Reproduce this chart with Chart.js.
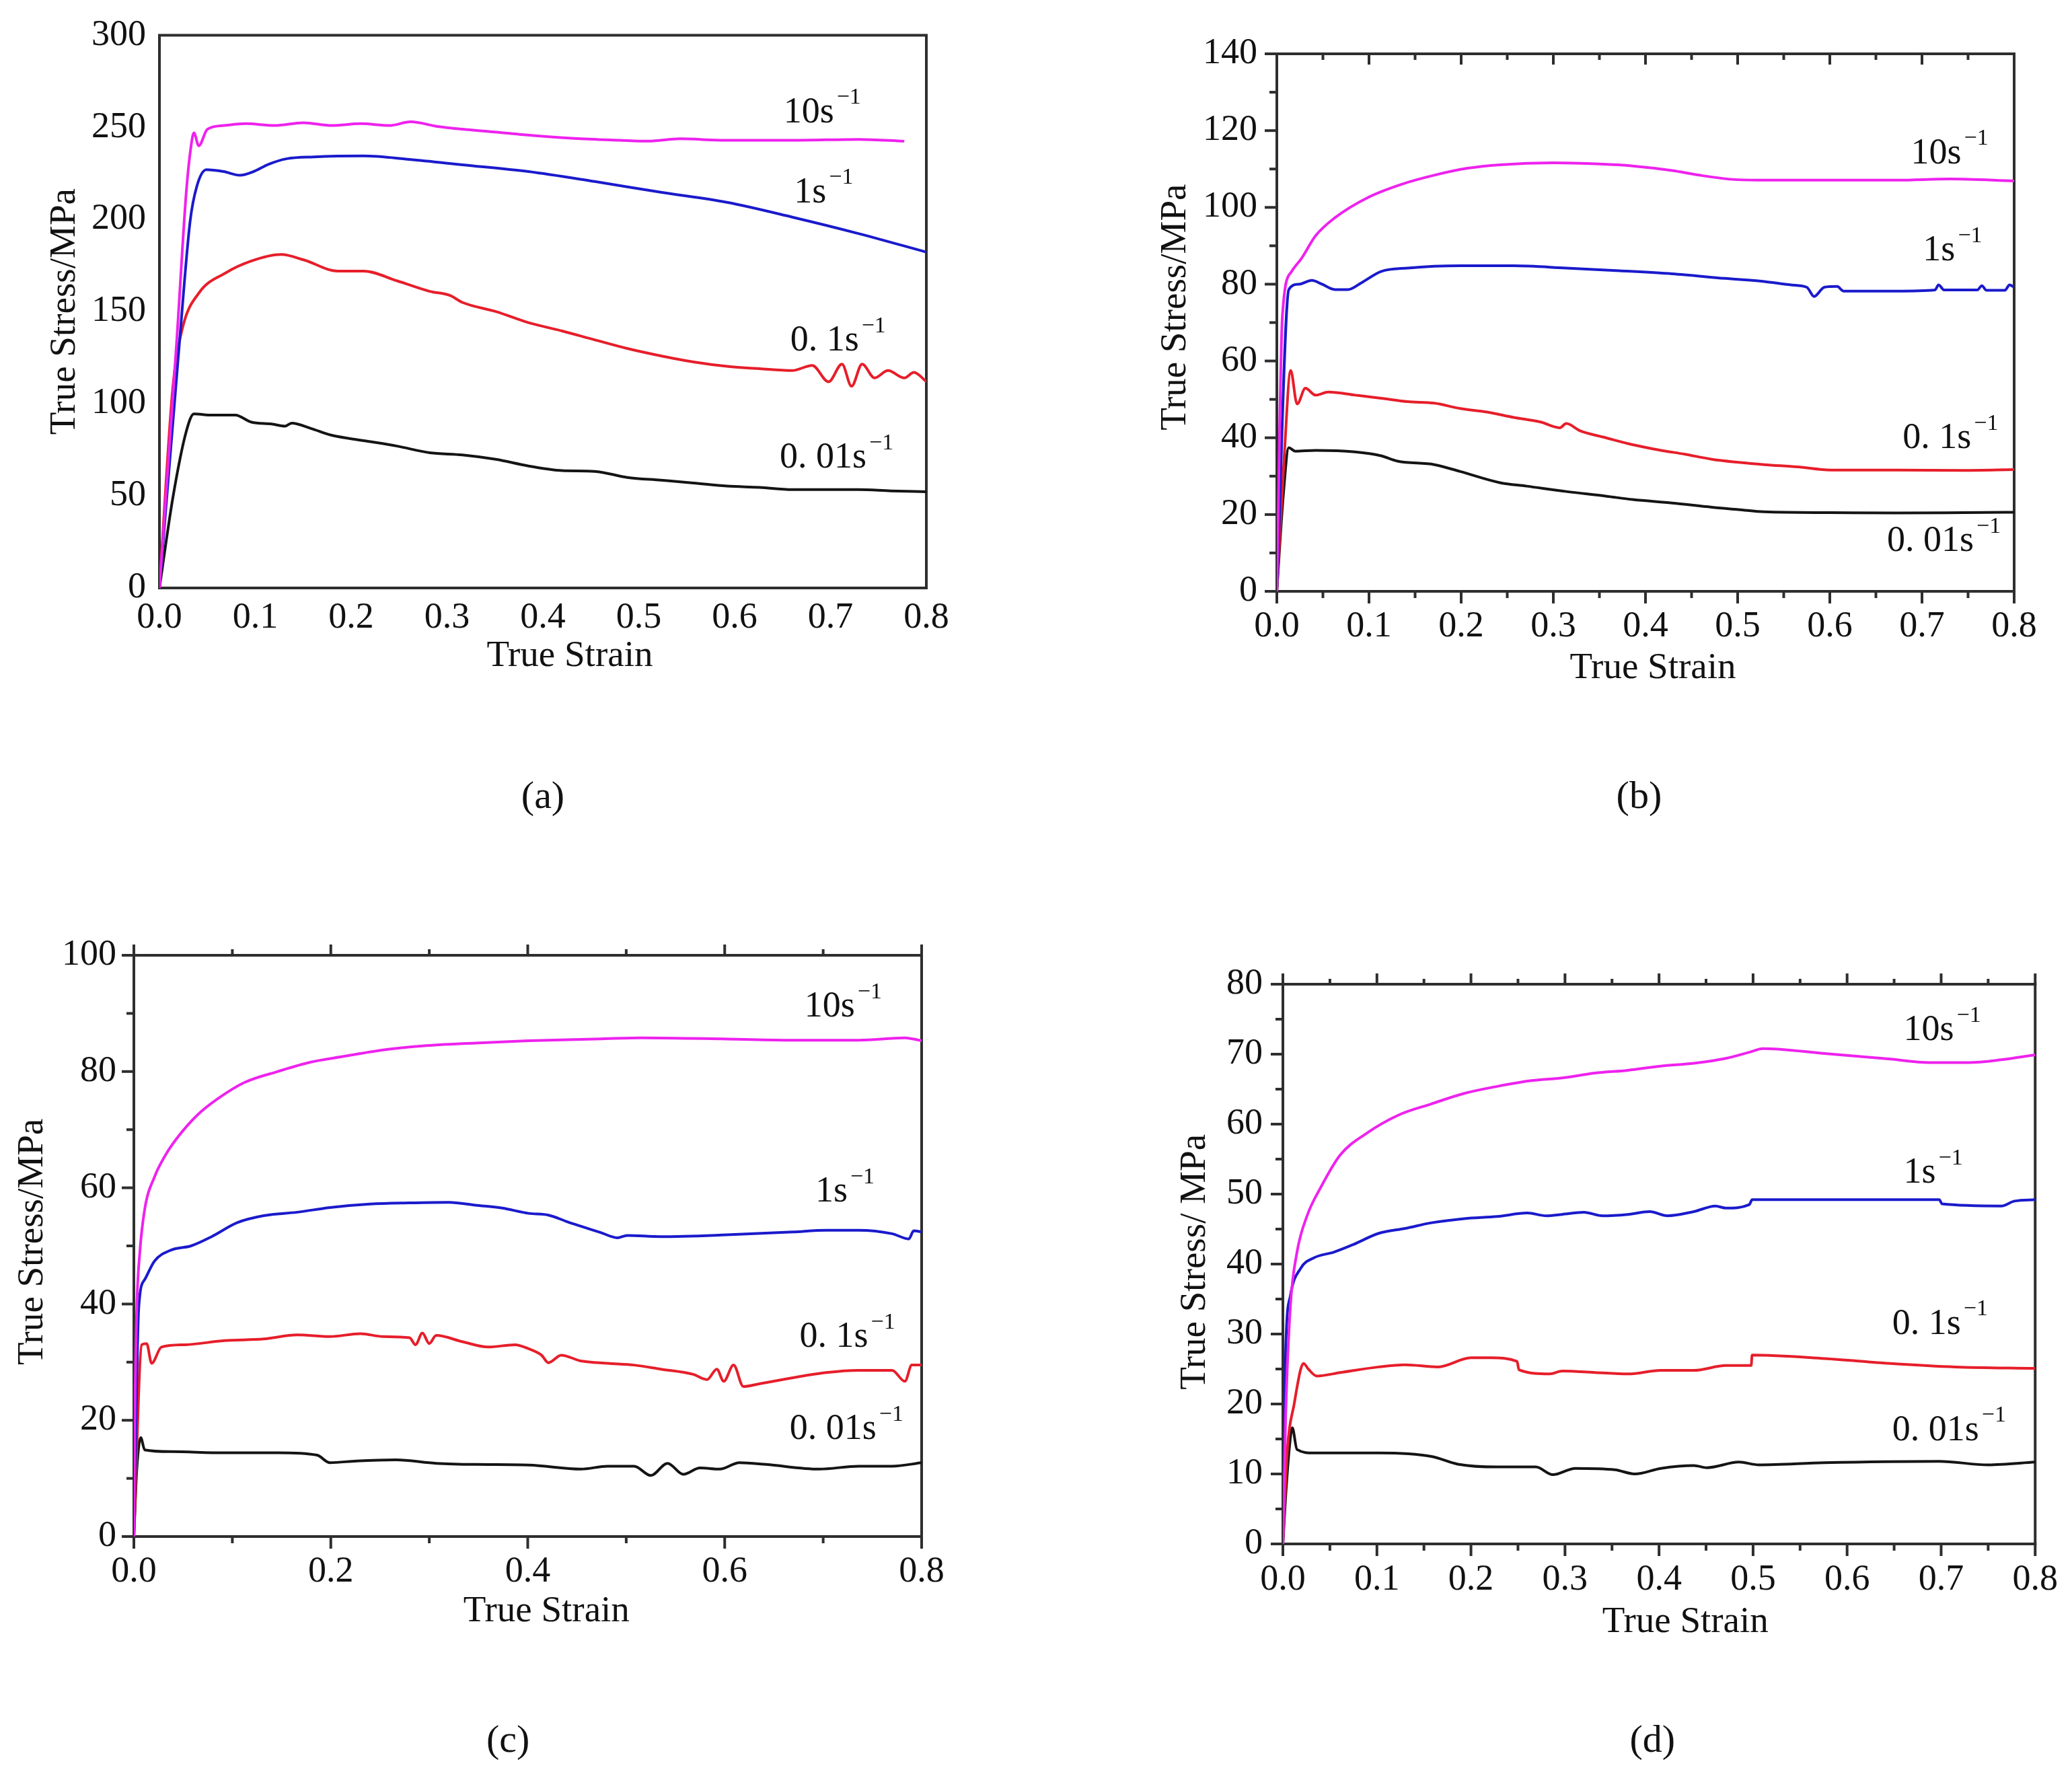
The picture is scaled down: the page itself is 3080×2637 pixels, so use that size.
<!DOCTYPE html>
<html>
<head>
<meta charset="utf-8">
<script src="https://cdn.jsdelivr.net/npm/chart.js@4.4.1/dist/chart.umd.min.js"></script>
<style>
  html, body { margin: 0; padding: 0; background: #fff; }
  #page { position: relative; width: 3080px; height: 2637px; overflow: hidden; background: #fff; }
  #page canvas { position: absolute; }
</style>
</head>
<body>
<div id="page">
  <canvas id="ca" width="1540" height="1318" style="left:0;top:0"></canvas>
  <canvas id="cb" width="1540" height="1318" style="left:1540px;top:0"></canvas>
  <canvas id="cc" width="1540" height="1319" style="left:0;top:1318px"></canvas>
  <canvas id="cd" width="1540" height="1319" style="left:1540px;top:1318px"></canvas>
</div>
<script>
// ── DATA ──
const rates = ['10s', '1s', '0. 1s', '0. 01s'];
const rateColors = ['#ee22ee', '#1a1acc', '#e61e2a', '#141414'];

// tick values
const strainTicks01 = [0, 0.1, 0.2, 0.3, 0.4, 0.5, 0.6, 0.7, 0.8];
const strainTicks02 = [0, 0.2, 0.4, 0.6, 0.8];
const stressTicksA = [0, 50, 100, 150, 200, 250, 300];
const stressTicksB = [0, 20, 40, 60, 80, 100, 120, 140];
const stressTicksC = [0, 20, 40, 60, 80, 100];
const stressTicksD = [0, 10, 20, 30, 40, 50, 60, 70, 80];

// (a)
const aStrain10 = [0, 0.018, 0.028, 0.033, 0.036, 0.041, 0.05, 0.067, 0.09, 0.12, 0.15, 0.18, 0.21, 0.24, 0.262, 0.29, 0.316, 0.35, 0.38, 0.433, 0.48, 0.51, 0.543, 0.59, 0.66, 0.73, 0.777];
const aStress10 = [0, 134, 215, 240, 247, 240, 249, 251, 252, 251, 252.5, 251, 252, 251, 253, 250.5, 249, 247.5, 246, 244, 243, 242.5, 243.8, 243, 243, 243.5, 242.5];
const aStrain1 = [0, 0.021, 0.032, 0.039, 0.049, 0.067, 0.084, 0.098, 0.114, 0.133, 0.161, 0.213, 0.261, 0.316, 0.385, 0.454, 0.523, 0.592, 0.66, 0.729, 0.8];
const aStress1 = [0, 134, 199, 218, 227, 226, 224, 226, 230, 233, 234, 234.5, 232.6, 229.7, 226, 220.6, 214.8, 209.3, 201.3, 192.4, 182.3];
const aStrain01 = [0, 0.014, 0.024, 0.041, 0.069, 0.096, 0.127, 0.151, 0.186, 0.213, 0.248, 0.282, 0.303, 0.316, 0.351, 0.385, 0.42, 0.454, 0.488, 0.523, 0.557, 0.592, 0.626, 0.66, 0.681, 0.698, 0.712, 0.722, 0.733, 0.746, 0.76, 0.777, 0.787, 0.8];
const aStress01 = [0, 109, 141, 160, 171, 177.5, 181, 178, 172, 172, 166.7, 161, 158.8, 155, 150, 144, 139.5, 134.7, 130, 126, 122.7, 120.3, 119, 118, 120.8, 111.9, 121.5, 109.5, 121.5, 114, 118, 114, 117, 112];
const aStrain001 = [0, 0.014, 0.028, 0.036, 0.055, 0.079, 0.096, 0.117, 0.131, 0.138, 0.158, 0.179, 0.2, 0.22, 0.248, 0.282, 0.316, 0.351, 0.385, 0.42, 0.454, 0.488, 0.523, 0.557, 0.592, 0.626, 0.66, 0.695, 0.729, 0.763, 0.8];
const aStress001 = [0, 49, 85, 94.5, 93.8, 93.8, 90, 89, 87.8, 89.5, 86.6, 83, 81, 79.4, 77, 73.4, 72.2, 69.8, 66.2, 63.7, 63.3, 60, 58.5, 57, 55.3, 54.6, 53.4, 53.4, 53.4, 52.7, 52.2];

// (b)
const bStrain10 = [0, 0.006, 0.016, 0.027, 0.042, 0.063, 0.099, 0.135, 0.171, 0.207, 0.242, 0.3, 0.35, 0.386, 0.429, 0.458, 0.494, 0.529, 0.601, 0.673, 0.73, 0.8];
const bStress10 = [0, 71.6, 83.3, 86.8, 92.6, 97.3, 102.6, 106, 108.4, 110.2, 111.1, 111.6, 111.3, 110.8, 109.6, 108.4, 107.3, 107.1, 107.1, 107.1, 107.4, 106.9];
const bStrain1 = [0, 0.013, 0.024, 0.038, 0.049, 0.063, 0.077, 0.092, 0.113, 0.142, 0.199, 0.257, 0.314, 0.372, 0.429, 0.486, 0.529, 0.558, 0.575, 0.583, 0.594, 0.608, 0.615, 0.673, 0.714, 0.718, 0.724, 0.76, 0.765, 0.77, 0.79, 0.795, 0.8];
const bStress1 = [0, 78.6, 80, 81, 80, 78.6, 78.6, 80.4, 83.3, 84.2, 84.8, 84.8, 84.2, 83.5, 82.7, 81.5, 80.7, 79.8, 79.2, 76.8, 79.2, 79.4, 78.2, 78.2, 78.5, 79.8, 78.5, 78.5, 79.6, 78.4, 78.4, 79.8, 79.2];
const bStrain01 = [0, 0.008, 0.015, 0.022, 0.031, 0.042, 0.056, 0.085, 0.113, 0.142, 0.171, 0.199, 0.228, 0.257, 0.286, 0.307, 0.314, 0.329, 0.357, 0.386, 0.415, 0.443, 0.472, 0.501, 0.529, 0.565, 0.601, 0.673, 0.745, 0.8];
const bStress01 = [0, 35, 57.5, 48.8, 52.9, 51.1, 51.9, 51.1, 50.3, 49.4, 49, 47.6, 46.7, 45.3, 44.1, 42.6, 43.7, 41.8, 40, 38.2, 36.8, 35.7, 34.4, 33.6, 33, 32.4, 31.6, 31.6, 31.5, 31.7];
const bStrain001 = [0, 0.007, 0.013, 0.02, 0.042, 0.085, 0.113, 0.131, 0.171, 0.199, 0.242, 0.271, 0.314, 0.357, 0.386, 0.429, 0.472, 0.501, 0.529, 0.601, 0.673, 0.745, 0.8];
const bStress001 = [0, 25, 37.4, 36.5, 36.7, 36.3, 35.3, 33.9, 33, 31.2, 28.3, 27.4, 26, 24.8, 23.9, 23, 21.9, 21.3, 20.7, 20.5, 20.4, 20.5, 20.6];

// (c)
const cStrain10 = [0, 0.001, 0.003, 0.006, 0.011, 0.021, 0.032, 0.045, 0.065, 0.085, 0.112, 0.146, 0.179, 0.213, 0.253, 0.293, 0.347, 0.401, 0.468, 0.515, 0.602, 0.669, 0.736, 0.783, 0.8];
const cStress10 = [0, 20.9, 39.5, 48.8, 56.3, 61.9, 65.6, 68.8, 72.6, 75.3, 78.1, 80, 81.6, 82.6, 83.7, 84.4, 84.9, 85.3, 85.6, 85.8, 85.6, 85.4, 85.4, 85.8, 85.3];
const cStrain1 = [0, 0.005, 0.011, 0.021, 0.038, 0.058, 0.079, 0.105, 0.132, 0.166, 0.199, 0.24, 0.28, 0.32, 0.347, 0.374, 0.401, 0.421, 0.441, 0.461, 0.474, 0.491, 0.501, 0.535, 0.602, 0.669, 0.703, 0.736, 0.77, 0.787, 0.792, 0.8];
const cStress1 = [0, 39.5, 44.2, 47.4, 49.3, 50, 51.6, 54, 55.2, 55.8, 56.6, 57.2, 57.4, 57.5, 57, 56.5, 55.6, 55.3, 54.1, 53, 52.3, 51.4, 51.8, 51.6, 51.9, 52.4, 52.7, 52.7, 52.1, 51.2, 52.6, 52.4];
const cStrain01 = [0, 0.008, 0.013, 0.018, 0.028, 0.052, 0.092, 0.132, 0.166, 0.199, 0.23, 0.253, 0.28, 0.286, 0.293, 0.3, 0.307, 0.334, 0.36, 0.387, 0.401, 0.414, 0.421, 0.434, 0.454, 0.481, 0.508, 0.535, 0.568, 0.582, 0.592, 0.599, 0.609, 0.619, 0.636, 0.703, 0.736, 0.77, 0.783, 0.79, 0.8];
const cStress01 = [0, 33, 33.2, 29.8, 32.6, 33, 33.7, 34, 34.7, 34.4, 34.9, 34.4, 34.2, 33, 35, 33.2, 34.6, 33.5, 32.6, 33, 32.3, 31.2, 29.9, 31.2, 30.2, 29.8, 29.5, 28.8, 27.9, 27, 28.8, 26.7, 29.5, 25.8, 26.3, 28.2, 28.6, 28.6, 26.7, 29.5, 29.5];
const cStrain001 = [0, 0.003, 0.007, 0.011, 0.038, 0.092, 0.146, 0.186, 0.199, 0.226, 0.266, 0.307, 0.347, 0.401, 0.454, 0.481, 0.508, 0.525, 0.542, 0.558, 0.575, 0.595, 0.615, 0.642, 0.696, 0.736, 0.77, 0.8];
const cStress001 = [0, 11.6, 17, 14.9, 14.6, 14.4, 14.4, 14, 12.7, 13, 13.2, 12.6, 12.4, 12.3, 11.6, 12.1, 12.1, 10.5, 12.6, 10.7, 11.8, 11.6, 12.7, 12.4, 11.6, 12.1, 12.1, 12.7];

// (d)
const dStrain10 = [0, 0.003, 0.008, 0.015, 0.026, 0.04, 0.061, 0.088, 0.123, 0.158, 0.193, 0.228, 0.263, 0.297, 0.332, 0.367, 0.402, 0.437, 0.471, 0.499, 0.51, 0.576, 0.646, 0.687, 0.729, 0.764, 0.8];
const dStress10 = [0, 18.5, 34, 41.7, 47, 50.9, 55.6, 58.6, 61.3, 62.9, 64.4, 65.4, 66.2, 66.6, 67.3, 67.7, 68.3, 68.7, 69.4, 70.4, 70.8, 70.1, 69.3, 68.8, 68.8, 69.2, 69.9];
const dStrain1 = [0, 0.003, 0.008, 0.019, 0.033, 0.054, 0.075, 0.102, 0.13, 0.158, 0.193, 0.228, 0.26, 0.28, 0.297, 0.32, 0.34, 0.367, 0.39, 0.409, 0.437, 0.46, 0.471, 0.496, 0.499, 0.576, 0.698, 0.701, 0.764, 0.778, 0.8];
const dStress1 = [0, 27.8, 35.5, 39.4, 40.9, 41.7, 42.8, 44.4, 45.1, 45.9, 46.5, 46.8, 47.3, 46.9, 47.1, 47.4, 46.9, 47.1, 47.5, 46.9, 47.5, 48.3, 48, 48.5, 49.2, 49.2, 49.2, 48.6, 48.3, 49, 49.2];
const dStrain01 = [0, 0.005, 0.012, 0.019, 0.022, 0.027, 0.036, 0.061, 0.102, 0.13, 0.165, 0.2, 0.221, 0.249, 0.251, 0.284, 0.297, 0.332, 0.367, 0.402, 0.437, 0.471, 0.498, 0.499, 0.576, 0.646, 0.715, 0.8];
const dStress01 = [0, 13.9, 20, 25, 25.8, 25, 24, 24.5, 25.3, 25.6, 25.3, 26.6, 26.6, 26.1, 24.9, 24.3, 24.7, 24.5, 24.3, 24.8, 24.8, 25.5, 25.5, 27, 26.5, 25.8, 25.3, 25.1];
const dStrain001 = [0, 0.003, 0.007, 0.01, 0.015, 0.033, 0.102, 0.158, 0.186, 0.228, 0.269, 0.287, 0.311, 0.353, 0.374, 0.402, 0.437, 0.451, 0.485, 0.506, 0.576, 0.698, 0.75, 0.8];
const dStress001 = [0, 6.9, 13.9, 16.6, 13.5, 13, 13, 12.5, 11.4, 11, 11, 9.9, 10.8, 10.6, 10, 10.8, 11.2, 10.9, 11.7, 11.3, 11.6, 11.8, 11.3, 11.7];

// ── PANEL LAYOUT ──
// rect = plot area in page pixels [left, top, right, bottom]
const FONT = '"Liberation Serif", "Times New Roman", serif';
const Y_AXIS_W = 150, X_AXIS_H = 150;
const tickOut = { left: [16, 9], bottom: [16, 8] };

const panels = [
  { id: 'ca', ox: 0, oy: 0, h: 1318, rect: [237, 39, 1377, 874],
    xTicks: strainTicks01, yTicks: stressTicksA, xPad: 12, yPad: 20, marks: null,
    series: [[aStrain10, aStress10], [aStrain1, aStress1], [aStrain01, aStress01], [aStrain001, aStress001]],
    yTitle: ['True Stress/MPa', 140, 150], xTitle: [0.428, 102], letter: ['(a)', 0.40, 312],
    labels: [[0.651, 258], [0.662, 214.5], [0.658, 134], [0.647, 70.4]] },
  { id: 'cb', ox: 1540, oy: 0, h: 1318, rect: [1898, 80, 2994, 879],
    xTicks: strainTicks01, yTicks: stressTicksB, xPad: 20, yPad: 29, marks: { top: [14, 7, 1] },
    series: [[bStrain10, bStress10], [bStrain1, bStress1], [bStrain01, bStress01], [bStrain001, bStress001]],
    yTitle: ['True Stress/MPa', 150, 74], xTitle: [0.408, 115], letter: ['(b)', 0.393, 307],
    labels: [[0.688, 114], [0.701, 88.7], [0.679, 39.8], [0.662, 13]] },
  { id: 'cc', ox: 0, oy: 1318, h: 1319, rect: [199, 1420, 1370, 2284],
    xTicks: strainTicks02, yTicks: stressTicksC, xPad: 20, yPad: 26, marks: { top: [14, 7, -1] },
    series: [[cStrain10, cStress10], [cStrain1, cStress1], [cStrain01, cStress01], [cStrain001, cStress001]],
    yTitle: ['True Stress/MPa', 150, 50.7], xTitle: [0.419, 112], letter: ['(c)', 0.380, 305],
    labels: [[0.681, 91.1], [0.692, 59.3], [0.676, 34.3], [0.666, 18.4]] },
  { id: 'cd', ox: 1540, oy: 1318, h: 1319, rect: [1907, 1463, 3035, 2295],
    xTicks: strainTicks01, yTicks: stressTicksD, xPad: 21, yPad: 30, marks: { top: [14, 6, -1] },
    series: [[dStrain10, dStress10], [dStrain1, dStress1], [dStrain01, dStress01], [dStrain001, dStress001]],
    yTitle: ['True Stress/ MPa', 130, 40.3], xTitle: [0.428, 117], letter: ['(d)', 0.393, 294],
    labels: [[0.660, 73.4], [0.660, 53], [0.648, 31.4], [0.648, 16.2]] }
];

// ── PLUGINS ──
const mids = vals => vals.slice(1).map((v, i) => (v + vals[i]) / 2);

const frameTicks = {
  id: 'frameTicks',
  beforeDatasetsDraw(chart, args, o) {
    const { ctx, chartArea: a, scales: { x, y } } = chart;
    ctx.save();
    ctx.strokeStyle = '#2e2e2e';
    ctx.lineWidth = 4;
    ctx.lineCap = 'square';
    ctx.strokeRect(a.left, a.top, a.right - a.left, a.bottom - a.top);
    if (o.marks) {
      const line = (x1, y1, x2, y2) => { ctx.beginPath(); ctx.moveTo(x1, y1); ctx.lineTo(x2, y2); ctx.stroke(); };
      const xs = o.xTicks, ys = o.yTicks;
      ys.forEach(v => { const p = y.getPixelForValue(v); line(a.left, p, a.left - tickOut.left[0], p); });
      mids(ys).forEach(v => { const p = y.getPixelForValue(v); line(a.left, p, a.left - tickOut.left[1], p); });
      xs.forEach(v => { const p = x.getPixelForValue(v); line(p, a.bottom, p, a.bottom + tickOut.bottom[0]); });
      mids(xs).forEach(v => { const p = x.getPixelForValue(v); line(p, a.bottom, p, a.bottom + tickOut.bottom[1]); });
      const [tMaj, tMin, dir] = o.marks.top;
      xs.forEach(v => { const p = x.getPixelForValue(v); line(p, a.top, p, a.top + dir * tMaj); });
      mids(xs).forEach(v => { const p = x.getPixelForValue(v); line(p, a.top, p, a.top + dir * tMin); });
    }
    ctx.restore();
  }
};

const panelText = {
  id: 'panelText',
  afterDraw(chart, args, o) {
    const { ctx, chartArea: a, scales: { x, y } } = chart;
    ctx.save();
    ctx.fillStyle = '#111';
    ctx.textBaseline = 'middle';

    // axis titles
    ctx.font = '55px ' + FONT;
    ctx.textAlign = 'center';
    ctx.save();
    ctx.translate(a.left - o.yTitle[1], y.getPixelForValue(o.yTitle[2]));
    ctx.rotate(-Math.PI / 2);
    ctx.fillText(o.yTitle[0], 0, 0);
    ctx.restore();
    ctx.fillText('True Strain', x.getPixelForValue(o.xTitle[0]), a.bottom + o.xTitle[1]);

    // panel letter
    ctx.font = '58px ' + FONT;
    ctx.fillText(o.letter[0], x.getPixelForValue(o.letter[1]), a.bottom + o.letter[2]);

    // strain-rate labels with superscript
    ctx.textAlign = 'left';
    o.labels.forEach(([xv, yv], i) => {
      const px = x.getPixelForValue(xv), py = y.getPixelForValue(yv);
      ctx.font = '54px ' + FONT;
      ctx.fillText(rates[i], px, py);
      const w = ctx.measureText(rates[i]).width;
      ctx.font = '34px ' + FONT;
      ctx.fillText('\u22121', px + w + 4, py - 22);
    });
    ctx.restore();
  }
};

// ── CHARTS ──
const tickFont = { family: FONT, size: 54 };

panels.forEach(p => {
  const [L, T, R, B] = p.rect;
  const lx = L - p.ox, ty = T - p.oy, rx = R - p.ox, by = B - p.oy;
  new Chart(document.getElementById(p.id), {
    type: 'line',
    data: {
      datasets: p.series.map(([sx, sy], i) => ({
        label: rates[i],
        data: sx.map((v, k) => ({ x: v, y: sy[k] })),
        borderColor: rateColors[i],
        borderWidth: 4,
        pointRadius: 0,
        fill: false,
        cubicInterpolationMode: 'monotone',
        tension: 0.2
      }))
    },
    options: {
      responsive: false,
      devicePixelRatio: 1,
      animation: false,
      events: [],
      layout: { padding: { left: lx - Y_AXIS_W, top: ty, right: 1540 - rx, bottom: p.h - by - X_AXIS_H } },
      plugins: {
        legend: { display: false },
        tooltip: { enabled: false },
        frameTicks: { marks: p.marks, xTicks: p.xTicks, yTicks: p.yTicks },
        panelText: { yTitle: p.yTitle, xTitle: p.xTitle, letter: p.letter, labels: p.labels }
      },
      scales: {
        x: {
          type: 'linear',
          min: 0, max: 0.8,
          afterBuildTicks: s => { s.ticks = p.xTicks.map(v => ({ value: v })); },
          afterFit: s => { s.height = X_AXIS_H; },
          grid: { display: false, drawTicks: false },
          border: { display: false },
          ticks: { font: tickFont, color: '#111', padding: p.xPad, maxRotation: 0, autoSkip: false, callback: v => v.toFixed(1) }
        },
        y: {
          min: p.yTicks[0], max: p.yTicks[p.yTicks.length - 1],
          afterBuildTicks: s => { s.ticks = p.yTicks.map(v => ({ value: v })); },
          afterFit: s => { s.width = Y_AXIS_W; },
          grid: { display: false, drawTicks: false },
          border: { display: false },
          ticks: { font: tickFont, color: '#111', padding: p.yPad, autoSkip: false, callback: v => String(v) }
        }
      }
    },
    plugins: [frameTicks, panelText]
  });
});
</script>
</body>
</html>
